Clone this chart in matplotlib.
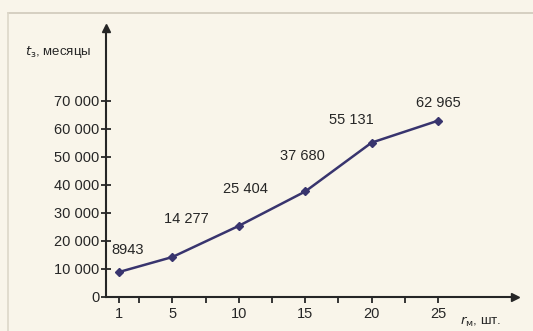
import matplotlib
matplotlib.use("Agg")
import matplotlib.pyplot as plt
from matplotlib.lines import Line2D

# Data: number of units vs. time in months
units = [1, 5, 10, 15, 20, 25]
months = [8943, 14277, 25404, 37680, 55131, 62965]
value_labels = ["8943", "14 277", "25 404", "37 680", "55 131", "62 965"]
x_major = [1, 5, 10, 15, 20, 25]
x_minor = [2.5, 7.5, 12.5, 17.5, 22.5]
y_ticks = [0, 10000, 20000, 30000, 40000, 50000, 60000, 70000]
y_ticklabels = ["0", "10 000", "20 000", "30 000", "40 000", "50 000", "60 000", "70 000"]

BG = "#f9f5ea"
INK = "#262626"
LINE = "#38346e"

plt.rcParams["font.family"] = ["Liberation Sans", "DejaVu Sans"]
plt.rcParams["mathtext.fontset"] = "dejavusans"

fig = plt.figure(figsize=(5.33, 3.31), dpi=100, facecolor=BG)
W, H = 533, 331
left, right, bottom, top = 106, 515, 297, 28
ax = fig.add_axes([left / W, (H - bottom) / H, (right - left) / W, (bottom - top) / H])
ax.set_facecolor(BG)
ax.patch.set_alpha(0)

ax.set_xlim(0, 25 * (right - left) / (438 - left))
ax.set_ylim(0, 70000 * (bottom - top) / (297 - 101))

for s in ("top", "right"):
    ax.spines[s].set_visible(False)
for s in ("left", "bottom"):
    ax.spines[s].set_color(INK)
    ax.spines[s].set_linewidth(1.5)

# axis arrows
ax.plot(1, 0, marker=">", color=INK, markersize=6, transform=ax.transAxes, clip_on=False)
ax.plot(0, 1, marker="^", color=INK, markersize=6, transform=ax.transAxes, clip_on=False)

ax.set_xticks(x_major)
ax.set_xticklabels([str(v) for v in x_major])
ax.set_xticks(x_minor, minor=True)
ax.set_yticks(y_ticks)
ax.set_yticklabels(y_ticklabels)
ax.tick_params(axis="x", which="both", direction="out", length=4, width=1.3,
               color=INK, labelcolor=INK, labelsize=10.5, pad=3)
ax.tick_params(axis="y", direction="inout", length=7, width=1.3,
               color=INK, labelcolor=INK, labelsize=10.5, pad=1)

ax.plot(units, months, color=LINE, linewidth=1.8, marker="D", markersize=4,
        markerfacecolor=LINE, markeredgecolor=LINE, clip_on=False)

offsets = [(8, 22), (14, 38), (7, 37), (-3, 35), (-20, 23), (0, 18)]
for x, y, lab, (dx, dy) in zip(units, months, value_labels, offsets):
    ax.annotate(lab, (x, y), xytext=(dx, dy), textcoords="offset pixels",
                ha="center", va="center", fontsize=10.5, color=INK)

# axis titles
fig.text(25 / W, 1 - 52 / H, r"$t_{\mathrm{з}}$, месяцы", fontsize=9.5, color=INK,
         ha="left", va="center")
fig.text(460 / W, 1 - 322 / H, r"$r_{\mathrm{м}}$, шт.", fontsize=9.5, color=INK,
         ha="left", va="center")

# page frame lines
fig.add_artist(Line2D([8 / W, 1.0], [1 - 13 / H, 1 - 13 / H], color="#cfc9bb",
                      linewidth=1.2, transform=fig.transFigure))
fig.add_artist(Line2D([8 / W, 8 / W], [0, 1 - 13 / H], color="#ddd7c9",
                      linewidth=1.2, transform=fig.transFigure))

fig.savefig("out.png", dpi=100, facecolor=BG)
